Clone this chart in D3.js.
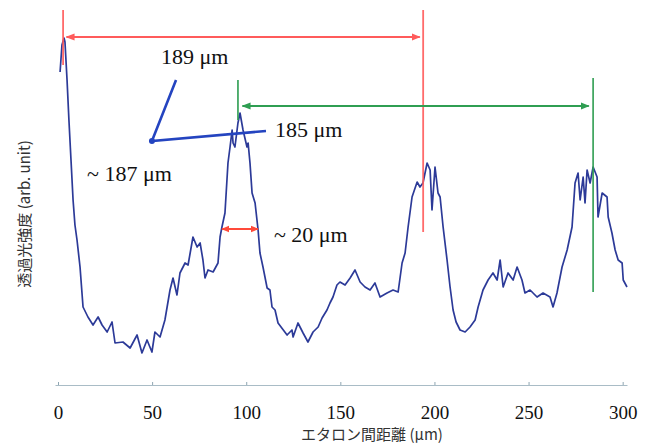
<!DOCTYPE html>
<html>
<head>
<meta charset="utf-8">
<script src="https://cdn.jsdelivr.net/npm/d3@7"></script>
<style>
  body { margin: 0; background: #fff; }
  svg { display: block; }
  .serif { font-family: "Liberation Serif", "Times New Roman", serif; fill: #111; }
  .cjk { font-family: "Noto Sans CJK JP", sans-serif; fill: #333; }
</style>
</head>
<body>
<div id="vis"></div>
<script>
// Declare constants
const FRAME_WIDTH = 654;
const FRAME_HEIGHT = 446;

// distance between etalons (um) and transmitted intensity (arb. unit)
const DIST = [1.1, 2.1, 3.2, 3.7, 4.8, 5.8, 6.9, 8.0, 9.0, 10.1, 11.7, 13.3, 15.9, 18.6, 21.3, 23.4,
  26.1, 28.7, 30.3, 34.5, 38.3, 42.0, 44.6, 47.3, 49.9, 51.5, 54.2, 56.8, 59.5, 61.1, 63.2, 64.8,
  67.5, 69.1, 71.7, 73.9, 75.5, 77.0, 78.1, 79.7, 82.4, 85.0, 86.1, 87.1, 88.7, 90.3, 91.4, 92.5,
  93.0, 94.0, 95.6, 96.7, 98.3, 100.4, 101.0, 102.0, 103.1, 104.7, 106.3, 107.3, 108.9, 111.1,
  112.6, 113.7, 115.3, 116.9, 121.7, 124.3, 124.9, 127.5, 130.2, 132.8, 135.5, 138.2, 140.3,
  142.9, 144.5, 146.1, 148.2, 149.8, 152.5, 155.2, 157.8, 160.5, 163.1, 165.8, 168.4, 171.1,
  174.8, 178.0, 180.7, 182.8, 184.4, 186.0, 188.1, 190.8, 192.3, 193.9, 196.1, 197.7, 198.7,
  200.3, 201.9, 203.0, 204.6, 206.7, 208.3, 209.9, 211.5, 213.6, 216.3, 218.9, 221.6, 223.2,
  225.8, 228.5, 231.1, 233.3, 234.9, 236.5, 239.1, 241.8, 243.9, 246.5, 248.1, 250.8, 254.5,
  257.7, 261.4, 263.0, 265.1, 267.8, 270.5, 273.1, 274.7, 276.3, 277.4, 279.0, 280.0, 281.1,
  282.7, 284.3, 286.4, 286.9, 289.1, 291.7, 292.3, 294.3, 296.0, 297.6, 299.7, 300.3, 302.3];

const INTENSITY = [313, 340, 347, 343, 305, 265, 225, 185, 160, 145, 118, 78, 68, 60, 68, 60,
  53, 63, 42, 43, 37, 50, 32, 45, 33, 53, 48, 65, 95, 107, 90, 112,
  122, 120, 148, 138, 142, 125, 107, 115, 113, 122, 148, 158, 172, 222, 238, 255,
  242, 238, 262, 272, 255, 238, 242, 222, 192, 182, 155, 132, 118, 97,
  95, 78, 75, 62, 50, 55, 48, 62, 52, 43, 53, 58, 67,
  75, 82, 88, 100, 103, 100, 107, 115, 103, 98, 95, 102, 88,
  92, 95, 93, 122, 132, 158, 188, 203, 198, 202, 222, 215, 175,
  218, 192, 188, 158, 125, 98, 75, 63, 55, 53, 58, 65, 78,
  95, 105, 112, 105, 125, 98, 112, 105, 118, 105, 92, 95, 88,
  92, 88, 78, 92, 118, 135, 158, 202, 212, 185, 208, 182, 215,
  202, 218, 208, 168, 192, 188, 168, 152, 135, 125, 122, 105, 98];

const X_TICKS = [0, 50, 100, 150, 200, 250, 300];
const X_TITLE = "エタロン間距離 (μm)";
const Y_TITLE = "透過光強度 (arb. unit)";

// annotation guides, in data units: [x1, y1, x2, y2]
const RED_LINES = [[2.7, 375, 2.7, 320], [194.0, 375, 194.0, 153]];
const RED_SPAN = [4.5, 192.2, 348];      // x from, x to, y
const GREEN_LINES = [[95.6, 305, 95.6, 265], [284.3, 307, 284.3, 93]];
const GREEN_SPAN = [98.0, 282.0, 279];
const WIDTH_SPAN = [87.1, 106.3, 156];
const BLUE_PATH = [[62.7, 305], [49.9, 244], [110.5, 254]];

const LABELS = [
  {x: 54.7, y: 321, text: "189 μm"},
  {x: 115.3, y: 248, text: "185 μm"},
  {x: 15.4, y: 204, text: "~ 187 μm"},
  {x: 114.7, y: 143, text: "~ 20 μm"}
];

const RED = "#ff5b5b";
const GREEN = "#2f9e52";
const BLUE = "#2444c0";
const LINE = "#2c3a98";

const FRAME = d3.select("#vis")
                .append("svg")
                  .attr("width", FRAME_WIDTH)
                  .attr("height", FRAME_HEIGHT);

// arrow markers
const DEFS = FRAME.append("defs");
function addMarker(id, color, size) {
  DEFS.append("marker")
      .attr("id", id)
      .attr("viewBox", "0 0 10 10")
      .attr("refX", 9).attr("refY", 5)
      .attr("markerWidth", size).attr("markerHeight", size)
      .attr("markerUnits", "userSpaceOnUse")
      .attr("orient", "auto-start-reverse")
    .append("path")
      .attr("d", "M0,1 L10,5 L0,9 Z")
      .attr("fill", color);
}
addMarker("arrRed", RED, 9);
addMarker("arrGreen", GREEN, 9);
addMarker("arrOrange", "#ff4a3a", 8);

// scales
const X_SCALE = d3.scaleLinear()
                  .domain([-1.6, 302.3])
                  .range([55, 627]);

const Y_SCALE = d3.scaleLinear()
                  .domain([0, 365])
                  .range([385, 20]);

// x axis
const AXIS = FRAME.append("g")
                  .attr("transform", "translate(0," + Y_SCALE(0) + ")")
                  .call(d3.axisBottom(X_SCALE)
                          .tickValues(X_TICKS)
                          .tickSizeInner(-3)
                          .tickSizeOuter(0)
                          .tickPadding(21));
AXIS.select(".domain").attr("stroke", "#a9bcc6").attr("stroke-width", 1);
AXIS.selectAll(".tick line").attr("stroke", "#8fa6b2");
AXIS.selectAll(".tick text")
    .attr("class", "serif")
    .attr("font-size", "19px")
    .attr("fill", "#222");

FRAME.append("text")
     .attr("class", "cjk")
     .attr("x", 372)
     .attr("y", 440)
     .attr("text-anchor", "middle")
     .attr("font-size", "15px")
     .text(X_TITLE);

FRAME.append("text")
     .attr("class", "cjk")
     .attr("transform", "translate(30,214) rotate(-90)")
     .attr("text-anchor", "middle")
     .attr("font-size", "15px")
     .text(Y_TITLE);

// transmission curve
const DATA = DIST.map((d, i) => ({x: d, y: INTENSITY[i]}));

FRAME.append("path")
     .datum(DATA)
     .attr("fill", "none")
     .attr("stroke", LINE)
     .attr("stroke-width", 1.7)
     .attr("stroke-linejoin", "round")
     .attr("d", d3.line()
                  .x((d) => X_SCALE(d.x))
                  .y((d) => Y_SCALE(d.y)));

// vertical guides
function guides(lines, color) {
  FRAME.selectAll(null)
       .data(lines)
       .enter()
       .append("line")
         .attr("x1", (d) => X_SCALE(d[0]))
         .attr("y1", (d) => Y_SCALE(d[1]))
         .attr("x2", (d) => X_SCALE(d[2]))
         .attr("y2", (d) => Y_SCALE(d[3]))
         .attr("stroke", color)
         .attr("stroke-width", 1.8)
         .attr("opacity", 0.9);
}
guides(RED_LINES, RED);
guides(GREEN_LINES, GREEN);

// double-headed spans
function span(s, color, marker, width) {
  FRAME.append("line")
       .attr("x1", X_SCALE(s[0]))
       .attr("x2", X_SCALE(s[1]))
       .attr("y1", Y_SCALE(s[2]))
       .attr("y2", Y_SCALE(s[2]))
       .attr("stroke", color)
       .attr("stroke-width", width)
       .attr("marker-start", "url(#" + marker + ")")
       .attr("marker-end", "url(#" + marker + ")");
}
span(RED_SPAN, RED, "arrRed", 1.8);
span(GREEN_SPAN, GREEN, "arrGreen", 1.8);
span(WIDTH_SPAN, "#ff4a3a", "arrOrange", 2.2);

// blue pointer
FRAME.append("path")
     .datum(BLUE_PATH)
     .attr("fill", "none")
     .attr("stroke", BLUE)
     .attr("stroke-width", 2.6)
     .attr("d", d3.line()
                  .x((d) => X_SCALE(d[0]))
                  .y((d) => Y_SCALE(d[1])));

FRAME.append("circle")
     .attr("cx", X_SCALE(BLUE_PATH[1][0]))
     .attr("cy", Y_SCALE(BLUE_PATH[1][1]))
     .attr("r", 3)
     .attr("fill", BLUE);

// labels
FRAME.selectAll(null)
     .data(LABELS)
     .enter()
     .append("text")
       .attr("class", "serif")
       .attr("x", (d) => X_SCALE(d.x))
       .attr("y", (d) => Y_SCALE(d.y))
       .attr("font-size", "22px")
       .text((d) => d.text);
</script>
</body>
</html>
